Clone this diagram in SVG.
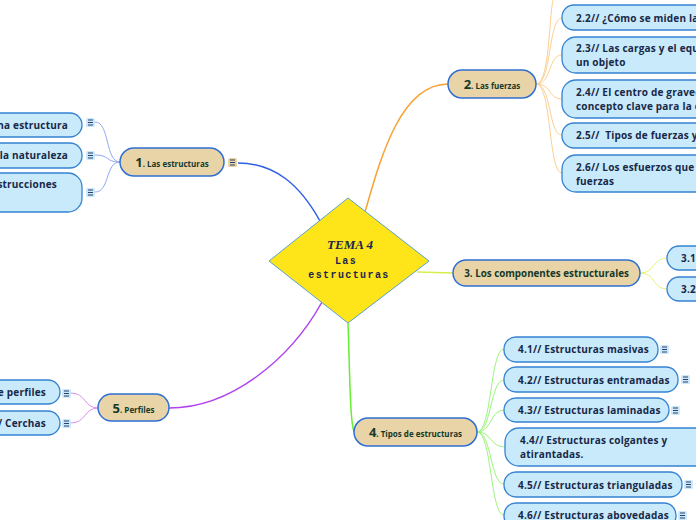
<svg xmlns="http://www.w3.org/2000/svg" width="696" height="520" viewBox="0 0 696 520">
<style>
.main{fill:#e8d4a6;stroke:#2f6fd4;stroke-width:1.5}
.sub{fill:#c8eafb;stroke:#3583d2;stroke-width:1.3}
.mt{font-family:"Open Sans","Noto Sans",sans-serif;font-weight:bold;fill:#15392c}
.st{font-family:"Open Sans","Noto Sans",sans-serif;font-weight:bold;font-size:10px;letter-spacing:0.2px;fill:#182848}
.ic{fill:#cbe9fb}
.ict{fill:#e8d4a6}
.il{stroke:#2a3f6a;stroke-width:1}
.c{fill:none}
</style>
<defs>
<g id="lines"><path class="il" d="M-2.5,-2.5h5M-2.5,0h5M-2.5,2.5h5"/></g>
</defs>
<g id="connectors">
<path class="c" stroke="#2f5fe8" stroke-width="1.5" d="M238,163 C275,163 300,185 320,221"/>
<path class="c" stroke="#f8a030" stroke-width="1.5" d="M365,212 C380,160 400,84 448,84"/>
<path class="c" stroke="#d8ee4a" stroke-width="1.5" d="M417,272 L453,273"/>
<path class="c" stroke="#66ee33" stroke-width="1.5" d="M348,323 C350,380 350,420 354,432"/>
<path class="c" stroke="#b040f0" stroke-width="1.5" d="M322,302 C290,360 230,408 169,408"/>
<g stroke="#8fa9f4" stroke-width="1" fill="none">
<path d="M120,162 C105,162 110,122 95,122"/>
<path d="M120,162 C105,162 110,155 95,155"/>
<path d="M120,162 C105,162 110,192 95,192"/>
</g>
<g stroke="#fcd092" stroke-width="1" fill="none">
<path d="M536,84 C552,84 548,-6 556,-6"/>
<path d="M536,84 C552,84 548,18 562,18"/>
<path d="M536,84 C552,84 548,55 562,55"/>
<path d="M536,84 C552,84 548,99 562,99"/>
<path d="M536,84 C552,84 548,135 562,135"/>
<path d="M536,84 C552,84 548,173 562,173"/>
</g>
<g stroke="#e4f27a" stroke-width="1" fill="none">
<path d="M640,273 C656,273 652,258 667,258"/>
<path d="M640,273 C656,273 652,289 667,289"/>
</g>
<g stroke="#9cf47c" stroke-width="1" fill="none">
<path d="M477,432 C492,432 490,349 504,349"/>
<path d="M477,432 C492,432 490,380 504,380"/>
<path d="M477,432 C492,432 490,410 504,410"/>
<path d="M477,432 C492,432 490,447 505,447"/>
<path d="M477,432 C492,432 490,484 504,484"/>
<path d="M477,432 C492,432 490,515 504,515"/>
</g>
<g stroke="#dd90f0" stroke-width="1" fill="none">
<path d="M98,408 C84,408 86,393 71,393"/>
<path d="M98,408 C84,408 86,423 71,423"/>
</g>
</g>
<g id="center">
<polygon points="348,198 429,261 348,323 269,261" fill="#fde51a" stroke="#5aa0d0" stroke-width="1"/>
<text x="350" y="249" text-anchor="middle" font-family="Liberation Serif,serif" font-weight="bold" font-style="italic" font-size="13" fill="#1a2450">TEMA 4</text>
<text x="346" y="264" text-anchor="middle" font-family="Liberation Mono,monospace" font-weight="bold" font-size="10" letter-spacing="1.4" fill="#1a2450">Las</text>
<text x="349" y="278" text-anchor="middle" font-family="Liberation Mono,monospace" font-weight="bold" font-size="10" letter-spacing="1.4" fill="#1a2450">estructuras</text>
</g>
<g id="n1">
<rect class="main" x="120" y="148" width="104" height="28" rx="14"/>
<text class="mt" x="172" y="166.5" text-anchor="middle"><tspan font-size="13">1</tspan><tspan font-size="8">. Las estructuras</tspan></text>
<rect class="ict" x="228" y="158" width="9" height="9" rx="1.5"/><use href="#lines" x="232.5" y="162.5"/>
</g>
<g id="n1a">
<rect class="sub" x="-30" y="113" width="112" height="24" rx="12"/>
<text class="st" x="68" y="129" text-anchor="end">na estructura</text>
<rect class="ic" x="86" y="118" width="9" height="9" rx="1.5"/><use href="#lines" x="90.5" y="122.5"/>
</g>
<g id="n1b">
<rect class="sub" x="-30" y="143" width="112" height="25" rx="12"/>
<text class="st" x="68" y="159" text-anchor="end">la naturaleza</text>
<rect class="ic" x="86" y="151" width="9" height="9" rx="1.5"/><use href="#lines" x="90.5" y="155.5"/>
</g>
<g id="n1c">
<rect class="sub" x="-30" y="173" width="112" height="39" rx="14"/>
<text class="st" x="57" y="188" text-anchor="end">estrucciones</text>
<rect class="ic" x="86" y="188" width="9" height="9" rx="1.5"/><use href="#lines" x="90.5" y="192.5"/>
</g>
<g id="n2">
<rect class="main" x="448" y="70" width="88" height="28" rx="14"/>
<text class="mt" x="492" y="89" text-anchor="middle"><tspan font-size="13">2</tspan><tspan font-size="8">. Las fuerzas</tspan></text>
</g>
<g id="n22"><rect class="sub" x="562" y="5" width="160" height="25" rx="12"/><text class="st" x="576" y="21.5">2.2// ¿Cómo se miden las</text></g>
<g id="n23"><rect class="sub" x="562" y="37" width="160" height="36" rx="14"/><text class="st" x="576" y="51.5">2.3// Las cargas y el equ</text><text class="st" x="576" y="65.5">un objeto</text></g>
<g id="n24"><rect class="sub" x="562" y="80" width="160" height="38" rx="14"/><text class="st" x="576" y="95.5">2.4// El centro de graved</text><text class="st" x="576" y="109.5">concepto clave para la e</text></g>
<g id="n25"><rect class="sub" x="562" y="123" width="160" height="25" rx="12"/><text class="st" x="576" y="139" xml:space="preserve">2.5//  Tipos de fuerzas y</text></g>
<g id="n26"><rect class="sub" x="562" y="155" width="160" height="37" rx="14"/><text class="st" x="576" y="170.5">2.6// Los esfuerzos que ori</text><text class="st" x="576" y="184.5">fuerzas</text></g>
<g id="n3">
<rect class="main" x="453" y="260" width="187" height="26" rx="13"/>
<text class="mt" x="546.5" y="277" text-anchor="middle" font-size="9.8">3. Los componentes estructurales</text>
</g>
<g id="n31"><rect class="sub" x="667" y="246" width="60" height="24" rx="12"/><text class="st" x="681" y="262">3.1</text></g>
<g id="n32"><rect class="sub" x="667" y="277" width="60" height="24" rx="12"/><text class="st" x="681" y="293">3.2</text></g>
<g id="n4">
<rect class="main" x="354" y="418" width="123" height="28" rx="14"/>
<text class="mt" x="415.5" y="437" text-anchor="middle"><tspan font-size="13">4</tspan><tspan font-size="8">. Tipos de estructuras</tspan></text>
</g>
<g id="n41"><rect class="sub" x="504" y="337" width="154" height="25" rx="12"/><text class="st" x="518" y="353">4.1// Estructuras masivas</text>
<rect class="ic" x="660" y="345" width="9" height="9" rx="1.5"/><use href="#lines" x="664.5" y="349.5"/></g>
<g id="n42"><rect class="sub" x="504" y="367" width="174" height="25" rx="12"/><text class="st" x="518" y="383.5">4.2// Estructuras entramadas</text>
<rect class="ic" x="681" y="375" width="9" height="9" rx="1.5"/><use href="#lines" x="685.5" y="379.5"/></g>
<g id="n43"><rect class="sub" x="504" y="398" width="165" height="24" rx="12"/><text class="st" x="518" y="414">4.3// Estructuras laminadas</text>
<rect class="ic" x="671" y="406" width="9" height="9" rx="1.5"/><use href="#lines" x="675.5" y="410.5"/></g>
<g id="n44"><rect class="sub" x="505" y="428" width="220" height="38" rx="14"/><text class="st" x="520" y="444">4.4// Estructuras colgantes y</text><text class="st" x="520" y="458">atirantadas.</text></g>
<g id="n45"><rect class="sub" x="504" y="472" width="178" height="25" rx="12"/><text class="st" x="518" y="488.5">4.5// Estructuras trianguladas</text>
<rect class="ic" x="684" y="480" width="9" height="9" rx="1.5"/><use href="#lines" x="688.5" y="484.5"/></g>
<g id="n46"><rect class="sub" x="504" y="503" width="172" height="25" rx="12"/><text class="st" x="518" y="519">4.6// Estructuras abovedadas</text>
<rect class="ic" x="678" y="511" width="9" height="9" rx="1.5"/><use href="#lines" x="682.5" y="515.5"/></g>
<g id="n5">
<rect class="main" x="98" y="394" width="71" height="27" rx="13.5"/>
<text class="mt" x="133.5" y="412.5" text-anchor="middle"><tspan font-size="13">5</tspan><tspan font-size="8">. Perfiles</tspan></text>
</g>
<g id="n5a"><rect class="sub" x="-30" y="380" width="90" height="24" rx="12"/><text class="st" x="46" y="396" text-anchor="end">de perfiles</text>
<rect class="ic" x="62" y="389" width="9" height="9" rx="1.5"/><use href="#lines" x="66.5" y="393.5"/></g>
<g id="n5b"><rect class="sub" x="-30" y="411" width="90" height="24" rx="12"/><text class="st" x="46" y="427" text-anchor="end">// Cerchas</text>
<rect class="ic" x="62" y="419" width="9" height="9" rx="1.5"/><use href="#lines" x="66.5" y="423.5"/></g>
</svg>
